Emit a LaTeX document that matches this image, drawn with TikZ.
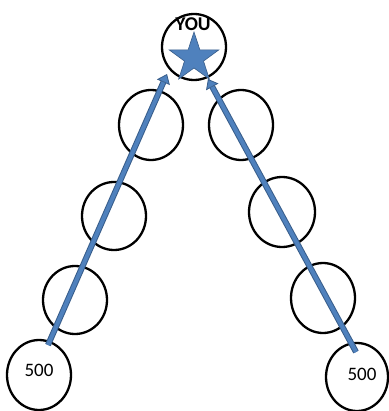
\documentclass[tikz,border=0pt]{standalone}
\usepackage{fontspec}
\setmainfont{Carlito}
\usetikzlibrary{shapes.geometric,arrows.meta}
\definecolor{ablue}{RGB}{79,129,189}
\definecolor{dblue}{RGB}{56,93,138}
\tikzset{
  ring/.style={draw=black,line width=2.3pt,ellipse,inner sep=0pt,minimum width=64pt,minimum height=68pt},
  bigarrow/.style={draw=dblue,line width=6pt,-{Triangle[length=9pt,width=14pt,line width=0.8pt,fill=ablue]}},
  innerarrow/.style={draw=ablue,line width=4pt,shorten >=9pt},
  num/.style={font=\fontsize{19}{22}\selectfont}
}
\begin{document}
\begin{tikzpicture}[x=1pt,y=-1pt]
\useasboundingbox (0,0) rectangle (388,411);
% circles
\node[ring,minimum height=66pt] (top) at (194,47) {};
\node[ring,minimum height=70pt] (l1) at (151,125) {};
\node[ring,minimum height=70pt] (r1) at (241,125) {};
\node[ring] (l2) at (114,216) {};
\node[ring,minimum width=66pt,minimum height=70pt] (r2) at (282,212) {};
\node[ring] (l3) at (75,300) {};
\node[ring,minimum height=70pt] (r3) at (323,298) {};
\node[ring,minimum height=70pt] (bl) at (39,375) {};
\node[ring,minimum width=62pt,minimum height=68pt] (br) at (357,377) {};
% texts
\node[num] (t1) at (39,370) {500};
\node[num] (t2) at (362,374) {500};
\node[font=\fontsize{19.5}{22}\selectfont\bfseries] (you) at (193,24) {YOU};
\node[star,star points=5,star point ratio=2.6,minimum size=52pt,inner sep=0pt,fill=ablue,draw=dblue,line width=0.6pt] (st) at (194,58) {};
% arrows
\coordinate (a1s) at (48,345);
\coordinate (a1e) at (167,74);
\coordinate (a2s) at (356,352);
\coordinate (a2e) at (208,79);
\draw[bigarrow] (a1s) -- (a1e);
\draw[innerarrow] (a1s) -- (a1e);
\draw[bigarrow] (a2s) -- (a2e);
\draw[innerarrow] (a2s) -- (a2e);
\end{tikzpicture}
\end{document}
